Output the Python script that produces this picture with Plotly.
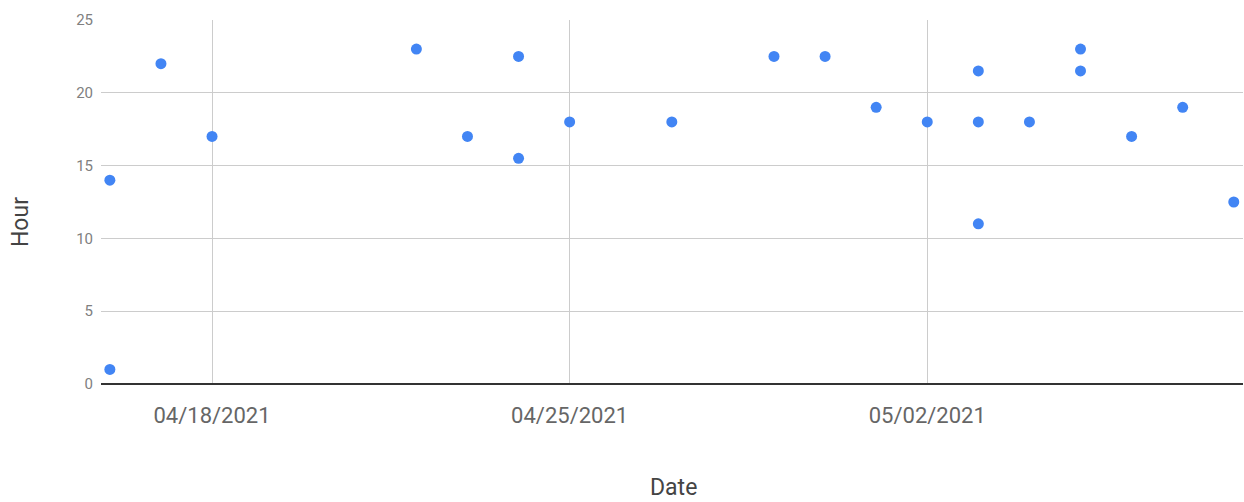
import plotly.graph_objects as go

# Logged events: date and hour of day
dates = [
    "2021-04-16", "2021-04-16", "2021-04-17", "2021-04-18",
    "2021-04-22", "2021-04-23", "2021-04-24", "2021-04-24",
    "2021-04-25", "2021-04-27", "2021-04-29", "2021-04-30",
    "2021-05-01", "2021-05-02", "2021-05-03", "2021-05-03",
    "2021-05-03", "2021-05-04", "2021-05-05", "2021-05-05",
    "2021-05-06", "2021-05-07", "2021-05-08",
]
hours = [
    14, 1, 22, 17,
    23, 17, 22.5, 15.5,
    18, 18, 22.5, 22.5,
    19, 18, 21.5, 18,
    11, 18, 23, 21.5,
    17, 19, 12.5,
]

y_ticks = [0, 5, 10, 15, 20, 25]

fig = go.Figure(
    go.Scatter(
        x=dates,
        y=hours,
        mode="markers",
        marker=dict(color="#4285F4", size=11, line=dict(width=0)),
        hoverinfo="x+y",
    )
)

week_ms = 7 * 24 * 3600 * 1000

fig.update_layout(
    width=1244,
    height=502,
    margin=dict(l=101, r=1, t=20, b=118),
    paper_bgcolor="white",
    plot_bgcolor="white",
    showlegend=False,
    font=dict(family="Roboto, sans-serif"),
    xaxis=dict(
        type="date",
        range=["2021-04-15 19:50", "2021-05-08 04:20"],
        tick0="2021-04-18",
        dtick=week_ms,
        tickformat="%m/%d/%Y",
        showgrid=True,
        gridcolor="#cccccc",
        gridwidth=1,
        zeroline=False,
        showline=False,
        ticks="",
        ticklabelstandoff=16,
        tickfont=dict(size=22, color="#666666"),
    ),
    yaxis=dict(
        range=[0, 25],
        tickvals=y_ticks,
        showgrid=True,
        gridcolor="#cccccc",
        gridwidth=1,
        zeroline=True,
        zerolinecolor="#333333",
        zerolinewidth=1.5,
        showline=False,
        ticks="",
        ticklabelstandoff=7,
        tickfont=dict(size=15, color="#808080"),
    ),
    annotations=[
        dict(
            text="Date",
            xref="paper", yref="paper",
            x=0.5009, y=-0.2857,
            xanchor="center", yanchor="middle",
            showarrow=False,
            font=dict(size=23, color="#444444"),
        ),
        dict(
            text="Hour",
            xref="paper", yref="paper",
            x=-0.0709, y=0.445,
            xanchor="center", yanchor="middle",
            textangle=-90,
            showarrow=False,
            font=dict(size=23, color="#444444"),
        ),
    ],
)

fig.write_html("out.html")
